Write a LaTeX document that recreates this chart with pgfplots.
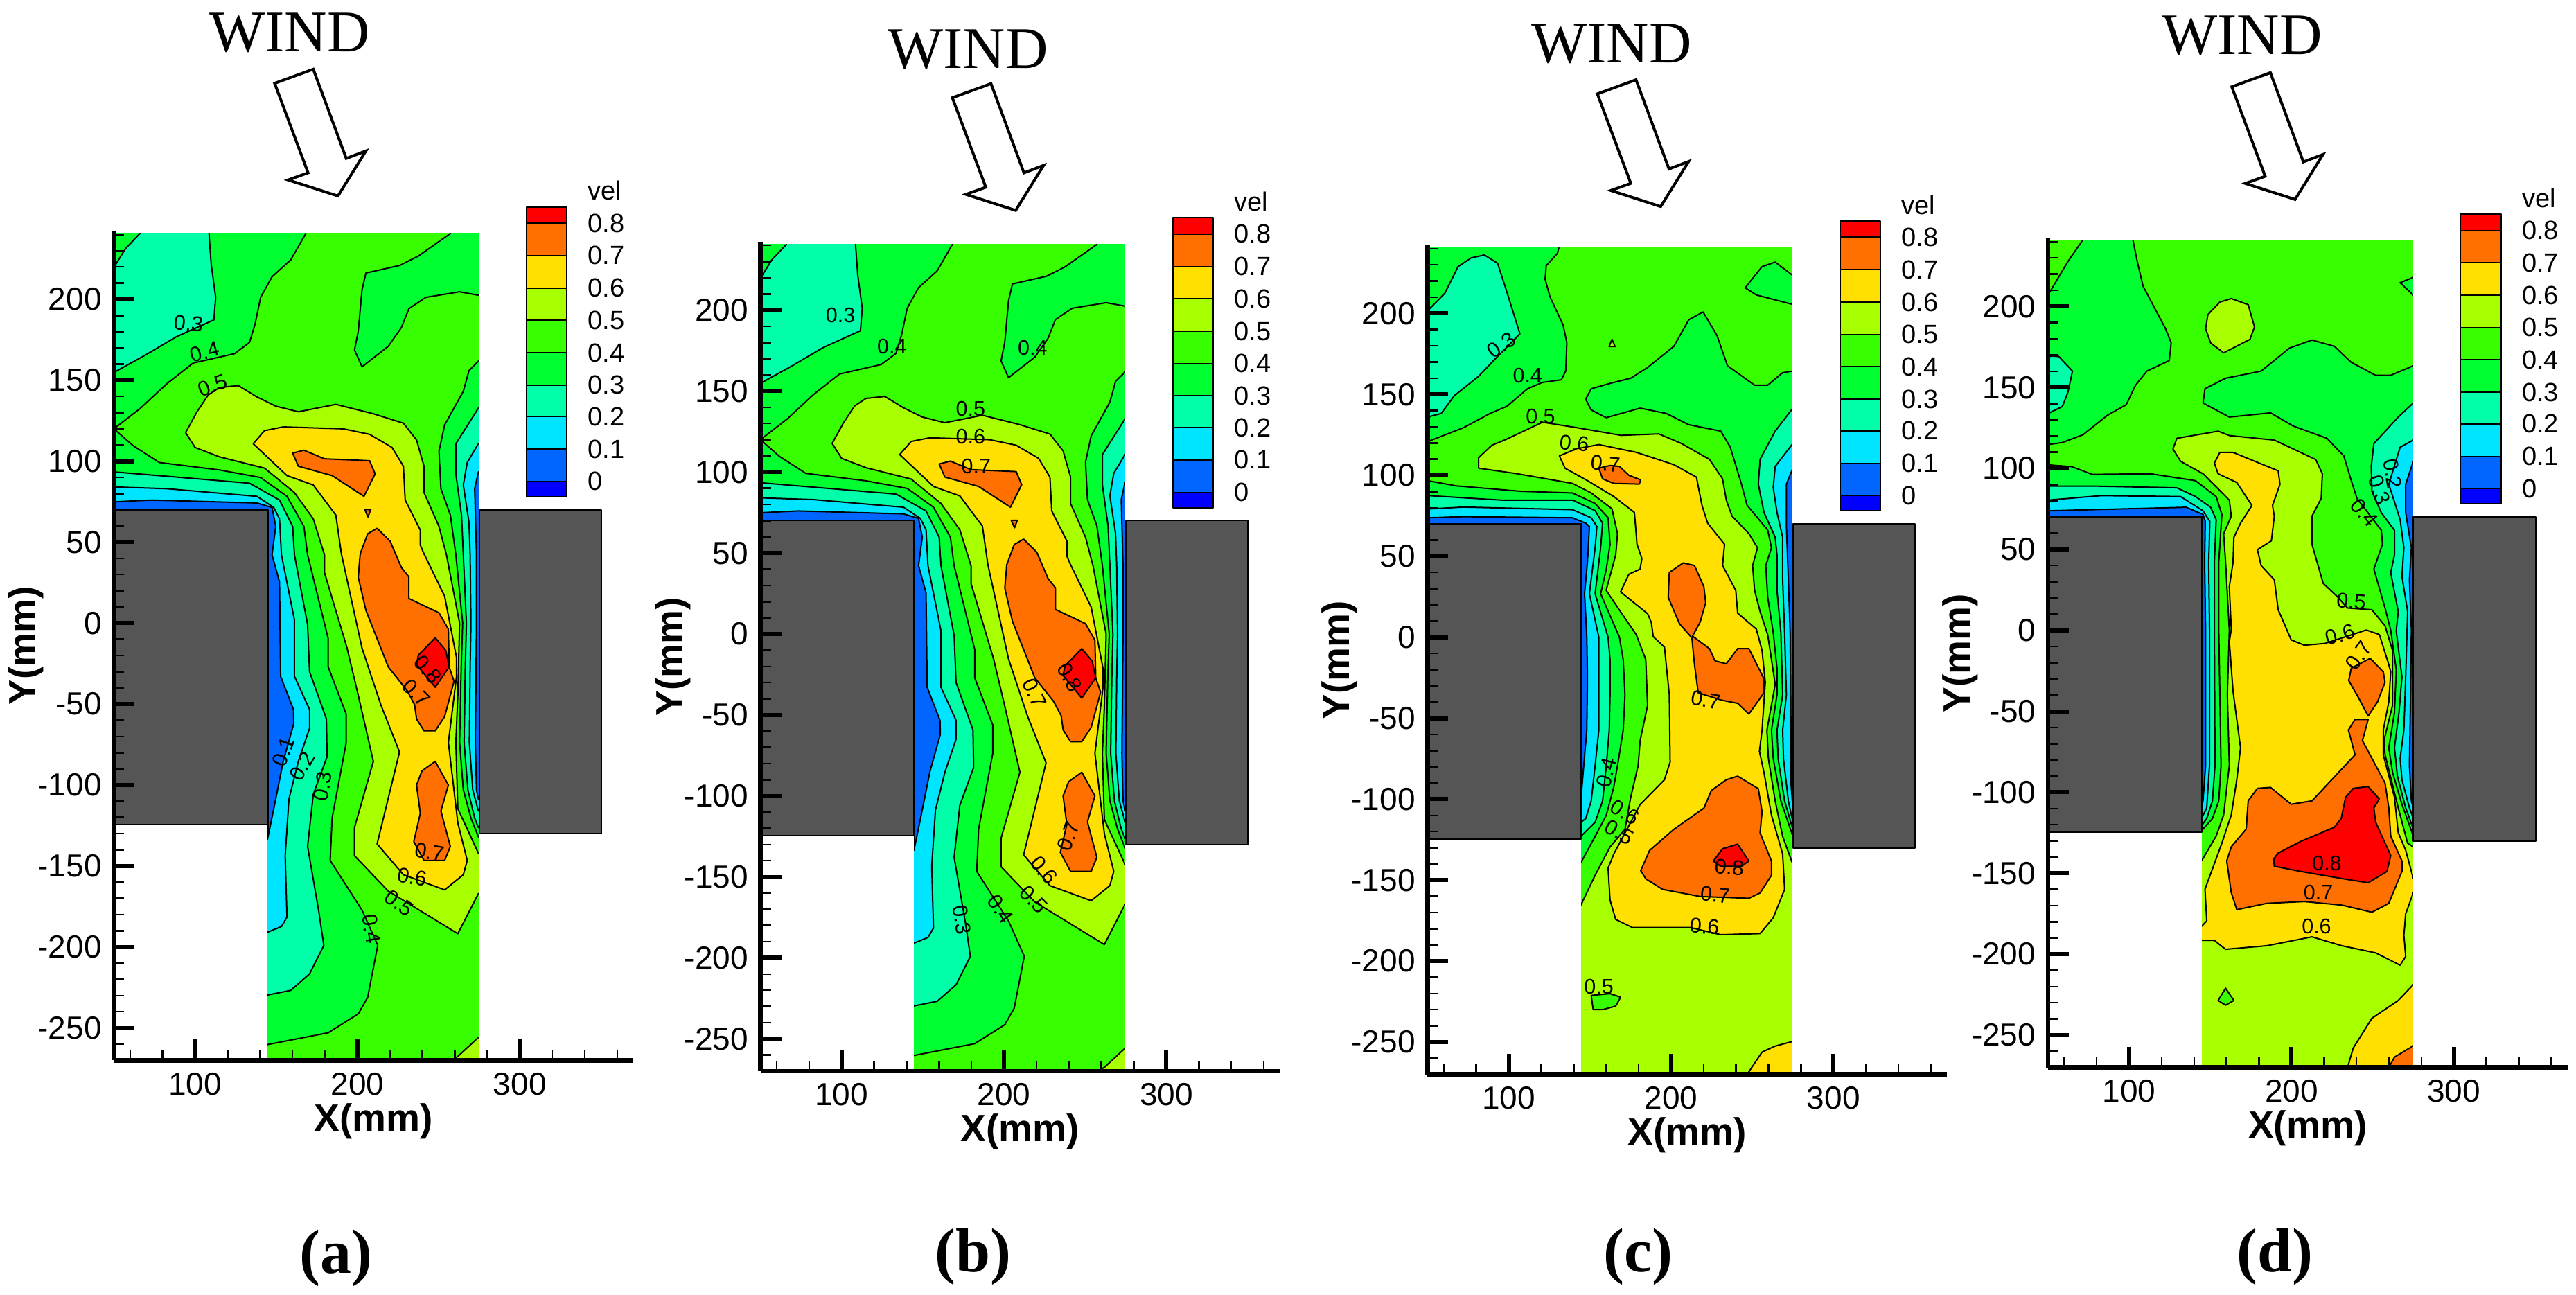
\documentclass[border=0pt]{standalone}
\usepackage{fontspec}
\setmainfont{Liberation Sans}
\newfontfamily\serifwind{Liberation Serif}
\usepackage{pgfplots}
\pgfplotsset{compat=1.18}

\definecolor{c0}{HTML}{0000FF}
\definecolor{c1}{HTML}{0066FF}
\definecolor{c2}{HTML}{00E5FF}
\definecolor{c3}{HTML}{00FFA8}
\definecolor{c4}{HTML}{00FF30}
\definecolor{c5}{HTML}{38FF00}
\definecolor{c6}{HTML}{A8FF00}
\definecolor{c7}{HTML}{FFE000}
\definecolor{c8}{HTML}{FF7000}
\definecolor{c9}{HTML}{FF0000}
\definecolor{block}{HTML}{555555}

\pgfplotsset{
  contour/.style={draw=black,line width=0.4pt,line join=round,mark=none},
  tec/.style={
    scale only axis,width=150pt,height=239.3pt,
    xmin=50,xmax=370,ymin=-270,ymax=242,
    clip=false,axis on top,
    axis x line*=bottom,axis y line*=left,
    axis line style={-,line width=1.3pt},
    tick align=inside,
    xtick={100,200,300},
    ytick={-250,-200,-150,-100,-50,0,50,100,150,200},
    minor xtick={60,80,120,140,160,180,220,240,260,280,320,340,360},
    minor ytick={-270,-260,-240,-230,-220,-210,-190,-180,-170,-160,-140,-130,-120,-110,-90,-80,-70,-60,-40,-30,-20,-10,10,20,30,40,60,70,80,90,110,120,130,140,160,170,180,190,210,220,230,240},
    major tick length=6pt,minor tick length=3pt,
    every major tick/.append style={line width=1.2pt,black},
    every minor tick/.append style={line width=0.5pt,black},
    /pgf/number format/assume math mode=true,
    tick label style={font=\fontsize{9.2}{10}\selectfont},
    xlabel={X(mm)},ylabel={Y(mm)},
    label style={font=\fontsize{11}{12}\selectfont\bfseries},
    xlabel style={yshift=4.5pt},
    ylabel style={yshift=-8.6pt},
  }
}

\newcommand{\lv}[2]{\addplot[contour,fill=#1] coordinates {#2} --cycle;}
\newcommand{\cl}[4]{\node[rotate=#4,inner sep=0pt,font=\fontsize{6.1}{6}\selectfont] at (axis cs:#1,#2) {#3};}
\newcommand{\legtext}[2]{\node[anchor=west,inner sep=0pt,font=\fontsize{7.6}{8}\selectfont] at (axis cs:341.5,#1) {#2};}

% white around the measured region, grey buildings, colour key
\newcommand{\frameparts}{
  \addplot[draw=none,fill=white,mark=none] coordinates {(49,241)(285,241)(285,250)(49,250)} --cycle;
  \addplot[draw=none,fill=white,mark=none] coordinates {(274.8,-270)(285,-270)(285,250)(274.8,250)} --cycle;
  \addplot[draw=none,fill=white,mark=none] coordinates {(138,-270)(144.6,-270)(144.6,-124)(138,-124)} --cycle;
  \addplot[contour,fill=block] coordinates {(50,70)(144.6,70)(144.6,-124.6)(50,-124.6)} --cycle;
  \addplot[contour,fill=block] coordinates {(275,70)(350.3,70)(350.3,-130)(275,-130)} --cycle;
  \lv{c9}{(304,247)(329,247)(329,257)(304,257)}
  \lv{c8}{(304,227)(329,227)(329,247)(304,247)}
  \lv{c7}{(304,207)(329,207)(329,227)(304,227)}
  \lv{c6}{(304,187)(329,187)(329,207)(304,207)}
  \lv{c5}{(304,167)(329,167)(329,187)(304,187)}
  \lv{c4}{(304,147)(329,147)(329,167)(304,167)}
  \lv{c3}{(304,127.5)(329,127.5)(329,147)(304,147)}
  \lv{c2}{(304,107.5)(329,107.5)(329,127.5)(304,127.5)}
  \lv{c1}{(304,87.5)(329,87.5)(329,107.5)(304,107.5)}
  \lv{c0}{(304,78)(329,78)(329,87.5)(304,87.5)}
  \legtext{267}{vel}
  \legtext{247}{0.8}\legtext{227}{0.7}\legtext{207}{0.6}\legtext{187}{0.5}\legtext{167}{0.4}
  \legtext{147}{0.3}\legtext{127.5}{0.2}\legtext{107.5}{0.1}\legtext{87.5}{0}
}

\newcommand{\panelAB}{
  \lv{c1}{(50,70)(145,70)(145,-270)(282,-270)(282,246)(50,246)}
  \lv{c2}{(50,74.9)(73.4,76)(138.1,74.2)(147.4,71.4)(149.7,59.8)(147.4,42.2)(152,25.4)(152.7,-32.9)(160.6,-53.3)(160.8,-62)(154.3,-85.4)(148.5,-114.5)(144.6,-133.5)(140,-133.5)(140,-270)(282,-270)(282,-108.7)(274.5,-108.7)(273.3,-102.9)(272.6,-73.7)(273.3,0)(273.3,42.2)(272.2,83)(274.5,93.4)(282,93.4)(282,246)(50,246)}
  \lv{c3}{(50,84.1)(82.7,83)(138.1,78.3)(148.5,71.4)(152,64.4)(153.2,42.2)(161.2,2)(161.2,-32.9)(170.5,-53.3)(170.5,-65)(163.6,-85.4)(157.8,-108.7)(155.5,-143.7)(156.6,-181.6)(153.2,-187.4)(144.6,-190.9)(140,-190.9)(140,-270)(282,-270)(282,-116)(274.5,-116)(271,-102.9)(268.9,-73.7)(269.4,-27)(269.9,0)(269.4,42.2)(268.7,62.1)(265.2,85.3)(267.6,99.2)(274.5,110.8)(282,110.8)(282,246)(50,246)}
  \lv{c4}{(50,154.8)(68.8,165.2)(88.4,176.8)(111.6,187.3)(112.7,201.2)(109.9,222)(108.6,240.6)(108.6,246)(282,246)(282,132.8)(274.5,132.8)(260.6,110.8)(260.6,92.2)(264.1,66.7)(265.2,42.2)(267.1,0)(266.4,-27)(265.7,-73.7)(268,-102.9)(272.2,-120.4)(274.5,-126.2)(282,-126.2)(282,-270)(140,-270)(140,-229.7)(144.6,-229.7)(158.9,-226.8)(170.5,-216.6)(179.3,-199.1)(176.3,-178.7)(169.3,-137.9)(172.8,-105.8)(181.3,-82.5)(180.9,-59.2)(170.5,-30)(169.3,-0.9)(161.2,42.2)(160.1,59.8)(152,76)(133.5,86.4)(91.9,89.9)(50,93.4)}
  \lv{c4}{(50,219.7)(57.2,231.3)(66,240.6)(66,246)(50,246)}
  \lv{c5}{(50,120)(66.5,132.8)(82.7,147.9)(98.8,160.6)(124.3,166.4)(133.5,173.3)(137,184.9)(140.4,201.2)(147.4,213.9)(158.9,224.3)(168.2,240.6)(168.2,246)(257.2,246)(257.2,240.6)(237.5,226.7)(226,220.9)(205.2,216.2)(202.8,205.8)(200.5,180.3)(198.2,168.7)(202.8,158.3)(219,171)(227.1,182.6)(231.7,194.2)(242.1,201.2)(262.9,204.6)(275.6,202.3)(282,202.3)(282,161.8)(274.5,161.8)(268.7,156)(265.2,143.2)(253.7,122.4)(250.2,106.1)(251.4,83)(257.2,66.8)(260.6,42.2)(264.8,0)(263.9,-27)(262.9,-73.7)(265.2,-102.9)(269.9,-120.4)(274.5,-132)(282,-132)(282,-270)(140,-270)(140,-260.3)(144.6,-260.3)(182,-253)(200.5,-241.3)(206.3,-231.1)(212.5,-199)(202.8,-177.2)(183.2,-146.6)(184.4,-120.4)(193.1,-73.7)(193.1,-56.2)(182,-27.1)(182,-9.6)(169.3,42.2)(167,59.8)(156.6,78.3)(140.4,89.9)(115,94.6)(78,99.2)(61.9,109.6)}
  \lv{c6}{(94.2,117.7)(101.2,130.5)(108.1,140.9)(115,145.5)(126.6,146.7)(138.1,139.7)(149.7,134)(163.6,130.5)(186.7,135.1)(209.8,129.3)(228.3,123.5)(236.4,113.1)(241,96.9)(241,80.6)(250.2,59.8)(254.8,42.2)(262.9,0)(261.8,-44.6)(260.6,-73.7)(261.8,-114.5)(274.5,-142.2)(282,-142.2)(282,-167)(274.5,-167)(261.8,-191.8)(219,-165.5)(198.2,-143.7)(198.2,-126.2)(209.8,-85.4)(200.5,-44.6)(193.6,-15.4)(179.7,31.2)(179.7,42.2)(172.8,64.4)(161.2,80.6)(142.8,95.7)(115,102.7)(100,108.5)}
  \lv{c6}{(258,-270)(261.8,-267.6)(274.5,-255.9)(282,-255.9)(282,-270)}
  \lv{c7}{(135.8,110.8)(142.8,118.9)(154.3,121.2)(191.3,120)(207.5,116.6)(221.3,108.5)(228.3,96.9)(229.4,76)(238.7,57.5)(238.7,48.2)(241,42.8)(253.7,16.6)(261,-21.3)(261,-32.9)(256,-73.7)(261.8,-123.3)(267.6,-146.6)(265.2,-155.4)(253.7,-164.7)(228.3,-155.4)(212.1,-136.4)(225.9,-79.6)(214.4,-50.4)(202.8,-15.4)(190.1,42.8)(186.7,66.7)(172.8,85.3)(156.6,91.1)}
  \lv{c8}{(160.1,105)(167,106.8)(179.7,101.5)(207.5,100.3)(210.9,92.2)(204,78.3)(184.4,91.1)(163.6,96.9)}
  \lv{c8}{(204.5,70.2)(208.2,70.2)(206.5,65.6)}
  \lv{c8}{(212.1,58.6)(220.2,50.5)(227.1,34.3)(231.7,28.5)(231.7,15.2)(250.2,6.4)(256,-3.8)(256.5,-27.1)(259.5,-35.9)(253.7,-57.7)(247.9,-66.5)(241,-66.5)(236.4,-59.2)(235.2,-50.4)(230.6,-41.7)(219,-27.1)(205.2,7.9)(200.5,28.3)(201.7,42.8)(206.3,55.2)}
  \lv{c8}{(247.9,-85.4)(256,-100)(251.4,-116)(257.2,-137.9)(253.7,-146.6)(241,-146.6)(234.7,-134.9)(238.7,-117.5)(236.4,-100)(239.8,-91.2)}
  \lv{c9}{(247.9,-9)(254.4,-16.9)(256.5,-27.1)(247.9,-39.6)(236.4,-25.6)(237.5,-19.8)}
}

\newcommand{\panelC}{
  \lv{c1}{(50,70)(145,70)(145,-270)(282,-270)(282,246)(50,246)}
  \lv{c2}{(50,73.8)(72.3,74.5)(139.3,73.8)(147.4,70.5)(149.7,68.4)(148.5,46.5)(146.7,26.9)(148.1,0)(148.5,-24.7)(148.1,-57.4)(146.2,-79.3)(144.4,-101.1)(140,-101.1)(140,-270)(282,-270)(282,-105.5)(275,-105.5)(273.8,-90.2)(273.8,-57.4)(273.3,2.8)(272.2,35.6)(271,68.4)(271,94.6)(275,104.4)(282,104.4)(282,246)(50,246)}
  \lv{c3}{(50,79.2)(72.3,80.4)(139.3,78.8)(150.8,73.8)(154.3,68.4)(153.2,55.3)(149.7,26.9)(155.5,0)(155.5,-24.7)(155.5,-57.4)(153.2,-79.3)(150.8,-101.1)(147.4,-112)(144.4,-114.2)(140,-114.2)(140,-270)(282,-270)(282,-114.2)(275,-114.2)(272.2,-101.1)(269.2,-74.9)(268.7,-57.4)(271,-35.6)(269.9,2.8)(268.7,35.6)(268.7,61.8)(265.2,77.1)(262.9,92.4)(264.1,105.5)(275,119.7)(282,119.7)(282,246)(50,246)}
  \lv{c4}{(50,87.5)(95.4,84.7)(139.3,84.7)(153.2,78.2)(157.8,70.5)(156.6,55.3)(153.2,26.9)(161.2,0)(162.4,-13.8)(162.4,-35.6)(161.9,-57.4)(160.1,-79.3)(157.8,-101.1)(153.2,-114.2)(144.4,-123)(140,-123)(140,-270)(282,-270)(282,-118.6)(275,-118.6)(269.9,-101.1)(265.9,-74.9)(265.2,-57.4)(268.7,-35.6)(267.6,2.8)(265.2,29)(265.2,50.9)(264.1,61.8)(257.2,77.1)(253.7,94.6)(254.8,109.9)(264.1,127.3)(275,141.5)(282,141.5)(282,246)(50,246)}
  \lv{c5}{(50,120.8)(72.3,129.5)(88.5,138.2)(98.9,142.6)(111.6,153.5)(120.8,157.4)(132.4,159)(135.1,164.4)(135.8,181.9)(133.5,192.8)(125.4,210.3)(122.4,221.2)(123.1,229.5)(130,237.1)(131.2,242)(131.2,246)(282,246)(282,164.4)(275,164.4)(268.7,163.4)(259.5,155.7)(251.4,155.7)(234.7,167.7)(228.3,186.3)(219.7,200.9)(210.9,196.1)(201.7,179.7)(185.5,166.6)(175.1,160)(162.4,156.8)(150.8,153.5)(147.4,147)(150.8,140.4)(160,135.6)(180.9,141.5)(197.1,138.2)(210.9,131.3)(230.6,127.3)(236.4,117.5)(243.3,94.6)(246.8,81.5)(259.5,66.2)(261.8,55.3)(258.3,44.3)(259.5,24.7)(262.9,2.8)(265.2,-19)(265.2,-35.6)(261.8,-57.4)(262.9,-74.9)(267.6,-101.1)(275,-123)(282,-123)(282,-270)(140,-270)(140,-139.3)(144.4,-139.3)(153.2,-123)(160.1,-109.9)(164.7,-92.4)(167,-79.3)(170.5,-57.4)(171.6,-35.6)(170.5,-13.8)(168.2,0)(156.6,26.9)(160.1,42.1)(162.4,57.4)(161.2,73.8)(153.2,82.6)(139.3,89.1)(106.9,90.2)(67.6,93.5)(50,96.7)}
  \lv{c4}{(275,223.4)(264.1,231.7)(256,228.9)(245.6,215.8)(252.5,211.4)(275,205.5)(282,205.5)(282,223.4)}
  \lv{c3}{(50,201.6)(60.7,212.5)(68.8,228.9)(76.9,234.3)(85,236.1)(93.1,231)(97.7,216.9)(106.9,187.4)(90.8,171)(81.5,161.2)(66.5,149.2)(58.4,138.2)(50,136)}
  \lv{c6}{(163.6,184)(165.5,179.5)(161.8,179.5)}
  \lv{c6}{(81.5,104.4)(81.5,110.9)(89.6,118.6)(97.7,121.9)(120.8,132.8)(141.6,129.5)(169.3,124.7)(192.4,125.6)(206.3,119.7)(223.6,109.9)(231.7,97.8)(234,84.7)(237.5,74.9)(247.9,64)(253.2,55.3)(250.2,44.3)(251.4,29)(254.8,15.9)(259.5,1.5)(264.1,-29)(259,-57.4)(259.9,-74.9)(264.1,-101.1)(268.7,-123)(275,-140.4)(282,-140.4)(282,-270)(140,-270)(140,-165.5)(144.4,-165.5)(153.2,-147)(162.4,-129.5)(171.6,-118.6)(175.1,-98.9)(179.7,-79.3)(180.9,-64)(185.5,-42.1)(184.4,-13.8)(178.6,1.5)(168.2,16.8)(160,29)(165.9,50.9)(167,64)(163.6,79.3)(150.8,89.1)(139.3,95)(104.6,101.1)}
  \lv{c5}{(150.8,-221.2)(162.4,-220.1)(168.9,-222.3)(165.9,-227.8)(157.8,-230)(152,-230)}
  \lv{c7}{(131.2,112)(141.6,116.4)(155.5,119)(178.6,114.2)(201.7,106.6)(215.6,98.9)(219,81.5)(222.5,70.5)(232.9,57.4)(231.7,44.3)(239.8,29)(241,14.9)(252.5,5)(256,-8.1)(258,-27.7)(256,-57.4)(254.4,-70.5)(257.2,-83.6)(261.8,-109.8)(268.7,-133.9)(269.9,-155.7)(262.9,-173.2)(254.8,-183)(230.6,-183.7)(212.1,-179.3)(176.3,-179.3)(165.9,-174.3)(162.4,-162.3)(161.2,-142.6)(164.7,-133.9)(180.9,-103.3)(195.9,-88)(199.4,-77.1)(198.9,-35.6)(195.9,-6.1)(189,0.4)(187.8,9.2)(185.5,14.6)(168.9,28)(174,38.9)(180.9,42.1)(182,48.7)(179,57.4)(177.4,77.1)(164.7,86.9)(148.5,96.7)(134.7,104.4)}
  \lv{c7}{(246.8,-270)(256,-256.2)(264.1,-252.5)(275,-249.6)(282,-249.6)(282,-270)}
  \lv{c8}{(155.5,104.4)(162.4,106.1)(168.2,105.5)(174,100)(181.3,97.2)(180.4,94.6)(164.7,95)(157.8,97.8)}
  \lv{c8}{(207.5,45.9)(214.4,44.3)(220.2,31.2)(221.3,21.4)(217.9,9.4)(213.2,0.7)(223.6,-7)(227.1,-14.6)(234,-16.4)(241,-7)(247.9,-7)(257.2,-25.6)(257.2,-34.3)(247.9,-47.4)(241,-40.8)(230.6,-38.7)(216.7,-34.3)(214.4,-16.8)(212.8,-0.4)(205.2,8.3)(198.2,24.7)(198.9,40)}
  \lv{c8}{(241,-85.8)(253.7,-93.5)(256,-107.7)(254.8,-120.8)(261.8,-138.2)(261.8,-147)(254.8,-157.9)(247.9,-161.2)(217.9,-160.1)(194.8,-155.7)(184.4,-149.2)(181.3,-144.1)(186.7,-131.7)(201.7,-118.6)(220.2,-105.5)(224.8,-94.6)(234,-88)}
  \lv{c9}{(226,-138.2)(231.7,-130.6)(241,-127.8)(247.9,-138.2)(243.3,-141.5)(230.6,-141.5)}
}

\newcommand{\panelD}{
  \lv{c1}{(50,70)(145,70)(145,-270)(282,-270)(282,246)(50,246)}
  \lv{c2}{(50,73.8)(76.2,74.5)(135.1,76)(145.5,71.6)(146.9,67.3)(146.5,42.1)(147.1,0)(147.1,-83.4)(145.5,-105.3)(144.6,-109.6)(140,-109.6)(140,-270)(282,-270)(282,-109.6)(275,-109.6)(273.8,-105.3)(272.6,-83.4)(273.3,-39.7)(273.8,0.7)(272.6,31.2)(273.8,50.9)(270.3,72.7)(270.3,90.2)(275,104.4)(282,104.4)(282,246)(50,246)}
  \lv{c3}{(50,80.4)(83.1,83.2)(131.7,82.6)(145.5,73.8)(149.7,67.3)(149,42.1)(149.5,0)(149.5,-39.7)(149.5,-83.4)(147.8,-109.6)(144.6,-116.2)(140,-116.2)(140,-270)(282,-270)(282,-116.2)(275,-116.2)(272.6,-109.6)(268,-92.2)(266.9,-79.1)(269.2,-61.6)(270.3,-28.8)(271.5,11.6)(268,33.4)(269.2,50.9)(266.9,68.4)(259.9,90.2)(266.9,113.1)(275,117.5)(282,117.5)(282,246)(50,246)}
  \lv{c4}{(50,89.1)(76.2,89.1)(129.4,88)(140.9,82.6)(150.2,76)(153.6,68.4)(152.5,42.1)(152.5,0)(152.9,-83.4)(151.3,-105.3)(147.8,-116.2)(144.6,-120.6)(140,-120.6)(140,-270)(282,-270)(282,-122.7)(275,-122.7)(270.3,-109.6)(265.2,-90)(263.4,-72.5)(266.2,-50.7)(268,-28.8)(264.5,-0.4)(265.7,11.6)(261.1,35.6)(263.4,46.5)(263.4,61.8)(255.3,72.7)(249.5,85.8)(249.1,101.1)(250.7,115.3)(265.7,131.7)(275,140.4)(282,140.4)(282,246)(50,246)}
  \lv{c5}{(50,102.2)(64.6,101.1)(77.4,96.3)(113.2,96.7)(140.9,92.4)(153.6,82.6)(157.1,71.6)(155.2,42.1)(155.2,0)(156.6,-83.4)(155.2,-105.3)(151.3,-116.2)(144.6,-123.8)(140,-123.8)(140,-270)(282,-270)(282,-127.1)(275,-127.1)(268,-107.4)(262.2,-87.8)(259.9,-72.5)(263.4,-50.7)(264.5,-24.5)(261.1,0)(257.6,13.8)(250.7,37.8)(256,53.1)(255.3,61.8)(240.3,81.5)(236.8,92.4)(232.2,107.7)(221.8,118.6)(201,126.2)(187.1,134.3)(161.7,131.7)(145.5,140.4)(146.7,149.2)(159.4,155.7)(181.3,160.1)(198.7,174.3)(212.6,179.3)(226.4,175.4)(236.8,165.5)(251.8,157.5)(261.1,157.5)(275,163.4)(282,163.4)(282,246)(50,246)}
  \lv{c4}{(71.6,246)(71.6,241.3)(62.3,227.8)(50,207)(50,114.7)(58.9,116)(71.6,120.8)(86.6,132.8)(98.2,139.3)(103.9,151.3)(110.9,160.1)(124.7,166.6)(125.9,177.5)(122.4,186.3)(108.6,212.5)(105,227.8)(102.3,241.3)(102.3,246)}
  \lv{c3}{(50,169.3)(56.6,169.2)(65.1,160.1)(62.3,147)(58.9,138.2)(50,133.9)}
  \lv{c4}{(275,218)(266.9,214.7)(275,207)(282,207)(282,218)}
  \lv{c6}{(162.9,204.9)(173.3,201.1)(177.2,187.4)(174.4,179.7)(158.2,171.4)(150.2,177.5)(147.1,186.3)(148.5,195)(155.9,202.7)}
  \lv{c6}{(127,112)(129.4,118.6)(154.8,123)(161.7,120.3)(189.4,117.5)(214.9,105.5)(219,96.7)(218.3,81.5)(212.6,70.5)(212.6,53.1)(219.5,29)(227.6,21.4)(234.5,13.8)(249.5,12.7)(257.6,2.8)(262.2,-12.4)(262.2,-46.3)(256.9,-68.1)(257.6,-76.9)(265.7,-109.6)(271.5,-131.5)(275,-133.7)(282,-133.7)(282,-270)(140,-270)(140,-142.4)(144.6,-142.4)(153.6,-127.1)(158.2,-114)(161.7,-83.4)(160.5,-39.7)(161.7,0)(159.4,42.1)(158.2,59.6)(162.9,70.5)(161.7,80.4)(145.5,96.7)(131.7,104.4)}
  \lv{c5}{(159.4,-221)(164.5,-228.6)(159.4,-231.5)(154.8,-228.6)}
  \lv{c7}{(152.5,103.3)(155.9,109.9)(164,109.9)(191.8,98.5)(192.9,90.2)(188.3,77.1)(189.4,70.5)(187.6,55.3)(179,49.8)(181.3,40)(189.4,31.2)(191.8,12.7)(199.8,-5.9)(207.9,-9.2)(220.6,-8.1)(246.1,0.2)(254.1,-2.6)(259.9,-21.2)(261.1,-25.6)(259.9,-44.1)(256.5,-61.6)(256.5,-76.9)(263.4,-103.1)(265.7,-124.9)(270.3,-135.8)(275,-153.3)(282,-153.3)(282,-162)(275,-162)(270.3,-175.1)(269.2,-188.3)(270.3,-201.4)(266.9,-206.8)(251.8,-199.2)(231,-194.8)(212.6,-189.3)(184.8,-194.8)(159.4,-197)(152.5,-191.5)(144.6,-191.5)(140,-191.5)(140,-182.8)(144.6,-182.8)(147.8,-179.5)(146.7,-159.9)(157.1,-131.5)(162.9,-114)(166.3,-92.2)(168.6,-72.5)(164,-37.6)(161.7,-7)(162.9,0.7)(161.7,26.9)(164,42.1)(164.5,57.4)(168.6,66.2)(175.6,77.1)(166.3,91.3)(154.8,96.7)}
  \lv{c7}{(234.5,-270)(238,-258)(249.5,-239.6)(265.7,-228.6)(275,-218.8)(282,-218.8)(282,-270)}
  \lv{c8}{(259.9,-270)(263.4,-263.6)(275,-256.6)(282,-256.6)(282,-270)}
  \lv{c8}{(248.4,-17.3)(256.5,-25.6)(257.6,-32.1)(253,-44.1)(247.2,-52.9)(241.4,-41.9)(235.2,-31)(236.8,-23.4)}
  \lv{c8}{(239.1,-55)(247.2,-55)(243.7,-68.1)(257.6,-94.3)(259.9,-109.6)(261.1,-127.1)(268,-142.4)(268,-148.9)(259.9,-168.6)(249.5,-174.1)(231,-169.7)(207.9,-167.5)(184.8,-168.6)(166.3,-172.5)(162.9,-162)(160.1,-142.4)(162.9,-133.7)(172.1,-122.7)(173.3,-105.3)(179,-97.6)(187.1,-97)(199.8,-107.4)(212.6,-105.3)(231,-85.6)(239.1,-76.9)(236.8,-68.1)(235,-61.6)}
  \lv{c9}{(247.2,-96.5)(254.1,-104.2)(250.7,-109.6)(251.8,-118.4)(261.1,-139.1)(258.8,-148.9)(247.2,-155.9)(231,-153.3)(205.6,-148.9)(189.4,-145.7)(189,-141.3)(191.7,-137.6)(205.6,-130.4)(226.4,-121.6)(230.6,-116.2)(233.3,-103.1)(238,-97.6)}
}

\newcommand{\arrowat}[2]{
  \addplot[draw=black,line width=0.8pt,fill=white,mark=none,line join=miter] coordinates {#1} --cycle;
  \node[font=\serifwind\fontsize{17}{18}\selectfont,inner sep=0pt] at #2 {WIND};
}
\newcommand{\capt}[2]{\node[font=\serifwind\fontsize{18}{20}\selectfont\bfseries,inner sep=0pt] at #1 {(#2)};}

\begin{document}
\begin{tikzpicture}
\useasboundingbox (0,0) rectangle (743.6pt,373.8pt);

\begin{axis}[tec,at={(32.87pt,67.74pt)},anchor=south west]
  \panelAB
  \frameparts
  \arrowat{(149,333.4)(172.8,342.1)(193.1,287)(205.2,291.6)(188,263.8)(157.3,273.7)(169.6,278.1)}{(axis cs:158.2,364.6)}
  \capt{(axis cs:186.7,-392)}{a}
  \cl{96}{185}{0.3}{-5}\cl{106}{167.5}{0.4}{15}\cl{111}{146.7}{0.5}{20}
  \cl{154.3}{-79.6}{0.1}{70}\cl{165.9}{-88.3}{0.2}{60}\cl{178.6}{-100.6}{0.3}{80}
  \cl{236.4}{-43.1}{0.7}{-45}\cl{243.3}{-28.6}{0.8}{-50}\cl{244.4}{-141.4}{0.7}{-10}
  \cl{234}{-156.8}{0.6}{-10}\cl{225.5}{-172.8}{0.5}{-35}\cl{208.6}{-188.9}{0.4}{-80}
\end{axis}

\begin{axis}[tec,at={(219.5pt,64.6pt)},anchor=south west]
  \panelAB
  \frameparts
  \arrowat{(168.2,331.2)(192,339.9)(212.3,284.8)(224.4,289.4)(207.2,261.6)(176.5,271.5)(188.8,275.9)}{(axis cs:177.8,361)}
  \capt{(axis cs:181,-384.8)}{b}
  \cl{99.3}{197}{0.3}{0}\cl{131}{177.5}{0.4}{0}\cl{217.6}{176.9}{0.4}{0}
  \cl{179.4}{138.9}{0.5}{0}\cl{179.4}{121.8}{0.6}{0}\cl{182.8}{103.7}{0.7}{0}
  \cl{218.8}{-36.5}{0.7}{-65}\cl{240.4}{-26.6}{0.8}{-60}\cl{239.7}{-125}{0.7}{70}
  \cl{224.6}{-145.9}{0.6}{-50}\cl{218.3}{-164}{0.5}{-45}\cl{197.9}{-169.9}{0.4}{-55}\cl{174}{-176.4}{0.3}{-80}
\end{axis}

\begin{axis}[tec,at={(412.07pt,63.66pt)},anchor=south west]
  \panelC
  \frameparts
  \arrowat{(154.6,335.6)(178.4,344.3)(198.7,289.2)(210.8,293.8)(193.6,266)(162.9,275.9)(175.2,280.3)}{(axis cs:163.3,366.4)}
  \capt{(axis cs:179.6,-382.7)}{c}
  \cl{95.4}{180.4}{0.3}{35}\cl{111.6}{161.8}{0.4}{0}\cl{119.6}{136.5}{0.5}{0}
  \cl{140.4}{119.7}{0.6}{-5}\cl{159.6}{107.2}{0.7}{-5}\cl{221.3}{-38.7}{0.7}{-10}
  \cl{160.1}{-83.6}{0.4}{75}\cl{171.6}{-108.1}{0.6}{-30}\cl{168.2}{-120.3}{0.5}{-30}
  \cl{235.9}{-142}{0.8}{-5}\cl{227.1}{-159}{0.7}{-5}\cl{220.6}{-178.6}{0.6}{-5}\cl{155.5}{-215.8}{0.5}{0}
\end{axis}

\begin{axis}[tec,at={(591.16pt,65.66pt)},anchor=south west]
  \panelD
  \frameparts
  \arrowat{(163.2,335.7)(187,344.4)(207.3,289.3)(219.4,293.9)(202.2,266.1)(171.5,276)(183.8,280.4)}{(axis cs:169.5,367.3)}
  \capt{(axis cs:190,-387)}{d}
  \cl{262.2}{96.7}{0.2}{-80}\cl{254.1}{86.9}{0.3}{-70}\cl{244.9}{72.7}{0.4}{-50}
  \cl{236.8}{18.1}{0.5}{-5}\cl{229.9}{-2.6}{0.6}{15}\cl{241.4}{-15.7}{0.7}{55}
  \cl{221.8}{-144.1}{0.8}{0}\cl{216.5}{-162}{0.7}{0}\cl{215.4}{-182.8}{0.6}{0}
\end{axis}
\end{tikzpicture}
\end{document}
